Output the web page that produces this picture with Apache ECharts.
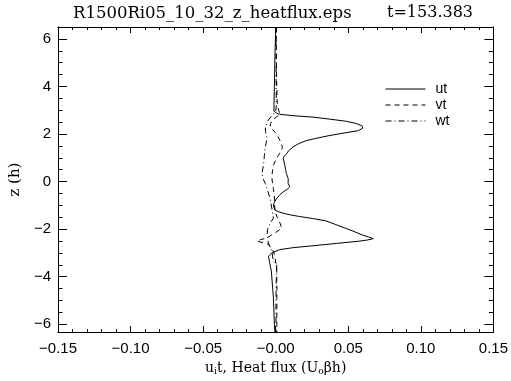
<!DOCTYPE html>
<html>
<head>
<meta charset="utf-8">
<script src="https://cdn.jsdelivr.net/npm/echarts@6/dist/echarts.min.js"></script>
<style>html,body{margin:0;padding:0;background:#fff;}#c{width:511px;height:381px;}</style>
</head>
<body>
<div id="c"></div>
<script>
// ---- data ----
var titleText = 'R1500Ri05_10_32_z_heatflux.eps';
var timeText = 't=153.383';
var seriesNames = ['ut', 'vt', 'wt'];

var utZ = [6.5, 5.4, 4.0, 3.2, 2.96, 2.88, 2.83, 2.77, 2.71, 2.62, 2.54, 2.45, 2.35, 2.25, 2.14, 2.04, 1.93, 1.82, 1.72, 1.6, 1.46, 1.3, 1.17, 1.05, 0.96, 0.82, 0.68, 0.5, 0.33, 0.125, -0.08, -0.22, -0.32, -0.43, -0.58, -0.71, -0.85, -0.99, -1.1, -1.2, -1.27, -1.33, -1.4, -1.47, -1.56, -1.65, -1.8, -1.96, -2.1, -2.24, -2.33, -2.40, -2.46, -2.51, -2.6, -2.70, -2.78, -2.86, -3.0, -3.14, -3.4, -3.63, -3.76, -4.875, -6.0, -6.33];
var utX = [0.0001, -0.0005, -0.0009, -0.0012, -0.0012, 0.0005, 0.0027, 0.012, 0.0257, 0.038, 0.048, 0.055, 0.0594, 0.060, 0.0569, 0.047, 0.0366, 0.028, 0.021, 0.016, 0.012, 0.009, 0.0074, 0.0058, 0.0052, 0.0058, 0.0063, 0.0068, 0.0074, 0.0086, 0.0086, 0.0097, 0.008, 0.0052, 0.0025, 0.0007, -0.0008, -0.0016, -0.0012, -0.0005, 0.002, 0.0052, 0.010, 0.0165, 0.026, 0.0345, 0.041, 0.048, 0.054, 0.0594, 0.064, 0.0672, 0.063, 0.0571, 0.042, 0.0255, 0.012, 0.0029, -0.0027, -0.005, -0.0042, -0.0035, -0.003, -0.0016, -0.0009, -0.0005];

var vtZ = [6.5, 5.0, 4.0, 3.3, 3.0, 2.83, 2.72, 2.62, 2.45, 2.29, 2.18, 2.07, 1.9, 1.72, 1.44, 1.25, 1.1, 0.9, 0.68, 0.45, 0.2, -0.08, -0.29, -0.6, -0.9, -1.25, -1.5, -1.75, -1.96, -2.1, -2.25, -2.375, -2.44, -2.51, -2.6, -2.8, -3.0, -3.2, -3.63, -4.5, -6.0, -6.33];
var vtX = [0.0004, 0.0005, 0.0007, 0.0011, 0.002, 0.003, 0.0005, -0.0016, -0.0035, -0.0039, -0.002, -0.0005, 0.0015, 0.003, 0.0047, 0.0035, 0.0018, 0.0, -0.0016, -0.0022, -0.0027, -0.0022, -0.0016, -0.001, -0.0008, -0.0005, 0.001, 0.003, 0.0041, 0.001, -0.003, -0.006, -0.0106, -0.0129, -0.006, -0.0027, -0.0012, -0.0005, 0.0007, 0.0008, 0.0008, 0.0008];

var wtZ = [6.5, 4.5, 3.2, 2.95, 2.75, 2.55, 2.42, 2.28, 2.1, 1.86, 1.65, 1.44, 1.1, 0.75, 0.33, 0.1, -0.08, -0.29, -0.71, -1.125, -1.54, -1.75, -2.0, -2.24, -2.58, -2.93, -3.35, -3.5, -4.6, -6.0, -6.33];
var wtX = [0.0002, 0.0003, 0.0004, 0.0, -0.003, -0.0055, -0.0061, -0.0072, -0.007, -0.0061, -0.0065, -0.0072, -0.0078, -0.0083, -0.0095, -0.0085, -0.0072, -0.006, -0.0039, -0.0027, -0.0016, -0.0039, -0.0055, -0.006, -0.005, -0.0027, -0.0016, 0.0007, 0.0002, 0.0002, 0.0002];

var xTicks = [-0.15, -0.10, -0.05, 0.0, 0.05, 0.10, 0.15];
var xTickLabels = ['\u22120.15', '\u22120.10', '\u22120.05', '\u22120.00', '0.05', '0.10', '0.15'];
var yTicks = [-6, -4, -2, 0, 2, 4, 6];
var yTickLabels = ['\u22126', '\u22124', '\u22122', '0', '2', '4', '6'];
var xRange = [-0.15, 0.15];
var yRange = [-6.33, 6.5];

// ---- build ----
function zip(xs, zs) { return xs.map(function (x, i) { return [x, zs[i]]; }); }
function minorVals(step, lo, hi) {
  var out = [];
  for (var k = Math.round(lo / step); k * step <= hi + 1e-9; k++) {
    var v = +(k * step).toFixed(6);
    if (v >= lo - 1e-9 && v <= hi + 1e-9) out.push(v);
  }
  return out;
}
var xMinor = minorVals(0.01, xRange[0], xRange[1]);
var yMinor = minorVals(0.5, yRange[0], yRange[1]);

function lbl(ticks, labels) {
  return function (v) {
    for (var i = 0; i < ticks.length; i++) if (Math.abs(ticks[i] - v) < 1e-9) return labels[i];
    return '';
  };
}

var sansFont = 'Liberation Sans';
var serifFont = 'DejaVu Serif';
var black = '#000';

function xAx(pos, major, showLabel, len) {
  return {
    type: 'value', position: pos, min: xRange[0], max: xRange[1],
    axisLine: { show: true, onZero: false, lineStyle: { color: black, width: 1 } },
    axisTick: { show: true, inside: true, length: len, customValues: major, lineStyle: { color: black } },
    axisLabel: { show: showLabel, customValues: major, formatter: lbl(xTicks, xTickLabels), color: black, fontFamily: sansFont, fontSize: 15, margin: 9 },
    splitLine: { show: false }
  };
}
function yAx(pos, major, showLabel, len) {
  return {
    type: 'value', position: pos, min: yRange[0], max: yRange[1],
    axisLine: { show: true, onZero: false, lineStyle: { color: black, width: 1 } },
    axisTick: { show: true, inside: true, length: len, customValues: major, lineStyle: { color: black } },
    axisLabel: { show: showLabel, customValues: major, formatter: lbl(yTicks, yTickLabels), color: black, fontFamily: sansFont, fontSize: 15, margin: 7 },
    splitLine: { show: false }
  };
}

var xAxes = [xAx('bottom', xTicks, true, 6), xAx('bottom', xMinor, false, 3), xAx('top', xTicks, false, 6), xAx('top', xMinor, false, 3)];
xAxes[0].name = 'u{sub|i}t, Heat flux (U{sub|o}\u03b2h)';
xAxes[0].nameLocation = 'middle';
xAxes[0].nameGap = 26;
xAxes[0].nameTextStyle = { color: black, fontFamily: serifFont, fontSize: 14, rich: { sub: { fontFamily: serifFont, fontSize: 9, verticalAlign: 'bottom', padding: [7, 0, 0, 0] } } };

var yAxes = [yAx('left', yTicks, true, 9), yAx('left', yMinor, false, 4.5), yAx('right', yTicks, false, 9), yAx('right', yMinor, false, 4.5)];
yAxes[0].name = 'z (h)';
yAxes[0].nameLocation = 'middle';
yAxes[0].nameGap = 32;
yAxes[0].nameTextStyle = { color: black, fontFamily: serifFont, fontSize: 15 };

var styles = ['solid', [5, 4], [6, 3, 1, 3]];
var datas = [zip(utX, utZ), zip(vtX, vtZ), zip(wtX, wtZ)];

var series = seriesNames.map(function (n, i) {
  return {
    name: n, type: 'line', data: datas[i], showSymbol: false, symbol: 'none', smooth: false,
    xAxisIndex: 0, yAxisIndex: 0,
    lineStyle: { color: black, width: 1, type: styles[i] }, itemStyle: { color: black },
    animation: false
  };
});

var chart = echarts.init(document.getElementById('c'), null, { renderer: 'canvas' });
chart.setOption({
  animation: false,
  backgroundColor: '#fff',
  title: [
    { text: titleText, left: 73, top: 5, padding: 0, textStyle: { fontFamily: serifFont, fontSize: 16.5, fontWeight: 'normal', color: black } },
    { text: timeText, left: 387, top: 5, padding: 0, textStyle: { fontFamily: serifFont, fontSize: 16, fontWeight: 'normal', color: black } }
  ],
  legend: {
    data: seriesNames, orient: 'vertical', left: 385, top: 82, padding: 0,
    itemWidth: 40, itemHeight: 14, itemGap: 2,
    itemStyle: { opacity: 0 },
    lineStyle: { width: 1 },
    textStyle: { fontFamily: sansFont, fontSize: 14, color: black, padding: [0, 0, 0, 5] },
    selectedMode: false
  },
  grid: { left: 53, right: 15, top: 27, bottom: 46, containLabel: false },
  xAxis: xAxes,
  yAxis: yAxes,
  series: series
});
</script>
</body>
</html>
